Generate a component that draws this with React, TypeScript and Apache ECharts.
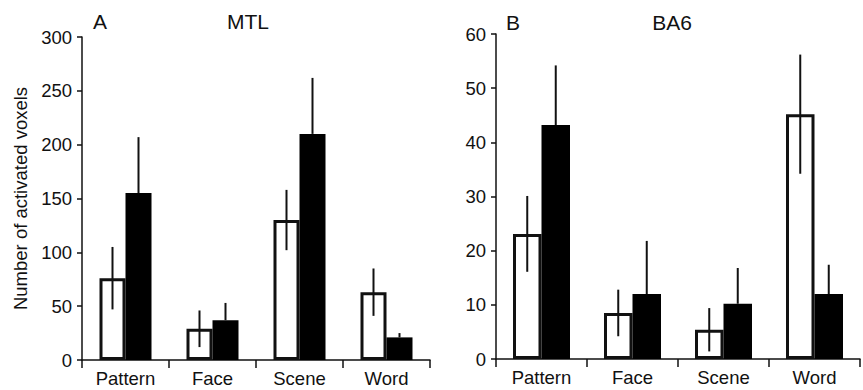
import React, { useEffect, useRef } from "react";
import * as echarts from "echarts";

const categories = ["Pattern", "Face", "Scene", "Word"];

// Panel A: MTL
const mtlWhite = [76, 29, 130, 63];
const mtlWhiteErr = [29, 17, 28, 22];
const mtlBlack = [155, 37, 210, 21];
const mtlBlackErr = [52, 16, 52, 4];
const mtlTicks = [0, 50, 100, 150, 200, 250, 300];

// Panel B: BA6
const ba6White = [23.1, 8.5, 5.4, 45.2];
const ba6WhiteErr = [7, 4.3, 4, 11];
const ba6Black = [43.2, 12, 10.2, 12];
const ba6BlackErr = [11, 9.8, 6.6, 5.4];
const ba6Ticks = [0, 10, 20, 30, 40, 50, 60];

const FONT = "'Liberation Sans', Arial, Helvetica, sans-serif";
const INK = "#111";

function errorSeries(
  values: number[],
  errs: number[],
  both: boolean,
  side: number,
  halfBar: number,
  axisIndex: number
) {
  return {
    type: "custom",
    xAxisIndex: axisIndex,
    yAxisIndex: axisIndex,
    z: 10,
    silent: true,
    data: values.map((v, i) => [i, v, errs[i]]),
    renderItem: (params: any, api: any) => {
      const i = api.value(0);
      const v = api.value(1);
      const e = api.value(2);
      const top = api.coord([i, v + e]);
      const bot = api.coord([i, both ? v - e : v]);
      const x = top[0] + side * halfBar;
      return {
        type: "line",
        shape: { x1: x, y1: top[1], x2: x, y2: bot[1] },
        style: { stroke: INK, lineWidth: 2 },
      };
    },
  };
}

function makeAxes(gridIndex: number, max: number, interval: number) {
  const x = {
    type: "category",
    gridIndex,
    data: categories,
    axisLine: { lineStyle: { color: INK, width: 1.5 } },
    axisTick: { show: true, length: 8, lineStyle: { color: INK, width: 1.5 } },
    axisLabel: { color: INK, fontSize: 18.5, fontFamily: FONT, margin: 9 },
  };
  const y: any = {
    type: "value",
    gridIndex,
    min: 0,
    max,
    interval,
    splitLine: { show: false },
    axisLine: { show: true, lineStyle: { color: INK, width: 1.5 } },
    axisTick: { show: true, length: 5, lineStyle: { color: INK, width: 1.5 } },
    axisLabel: { color: INK, fontSize: 18.5, fontFamily: FONT, margin: 10 },
  };
  return { x, y };
}

export default function App() {
  const ref = useRef<HTMLDivElement>(null);

  useEffect(() => {
    if (!ref.current) return;
    const chart = echarts.init(ref.current, null, { renderer: "svg" });

    const a = makeAxes(0, mtlTicks[mtlTicks.length - 1], mtlTicks[1] - mtlTicks[0]);
    const b = makeAxes(1, ba6Ticks[ba6Ticks.length - 1], ba6Ticks[1] - ba6Ticks[0]);
    a.y.name = "Number of activated voxels";
    a.y.nameLocation = "middle";
    a.y.nameGap = 52;
    a.y.nameTextStyle = { color: INK, fontSize: 18.5, fontFamily: FONT };

    const bwA = 26;
    const bwB = 28.5;

    const titleText = (text: string, x: number, y: number) => ({
      type: "text",
      x,
      y,
      style: {
        text,
        fill: INK,
        font: `21px ${FONT}`,
        textAlign: "center",
        textVerticalAlign: "middle",
      },
    });

    chart.setOption({
      animation: false,
      backgroundColor: "#fff",
      grid: [
        { left: 82, top: 37, width: 348, height: 323 },
        { left: 496, top: 34, width: 364, height: 325 },
      ],
      xAxis: [a.x, b.x],
      yAxis: [a.y, b.y],
      graphic: [
        titleText("A", 100, 21),
        titleText("MTL", 248, 21),
        titleText("B", 513, 22),
        titleText("BA6", 672, 22),
      ],
      series: [
        {
          type: "bar",
          xAxisIndex: 0,
          yAxisIndex: 0,
          data: mtlWhite,
          barWidth: bwA,
          barGap: "0%",
          itemStyle: { color: "#fff", borderColor: INK, borderWidth: 3 },
        },
        {
          type: "bar",
          xAxisIndex: 0,
          yAxisIndex: 0,
          data: mtlBlack,
          barWidth: bwA,
          barGap: "0%",
          itemStyle: { color: "#000" },
        },
        {
          type: "bar",
          xAxisIndex: 1,
          yAxisIndex: 1,
          data: ba6White,
          barWidth: bwB,
          barGap: "0%",
          itemStyle: { color: "#fff", borderColor: INK, borderWidth: 3 },
        },
        {
          type: "bar",
          xAxisIndex: 1,
          yAxisIndex: 1,
          data: ba6Black,
          barWidth: bwB,
          barGap: "0%",
          itemStyle: { color: "#000" },
        },
        errorSeries(mtlWhite, mtlWhiteErr, true, -1, bwA / 2, 0),
        errorSeries(mtlBlack, mtlBlackErr, false, 1, bwA / 2, 0),
        errorSeries(ba6White, ba6WhiteErr, true, -1, bwB / 2, 1),
        errorSeries(ba6Black, ba6BlackErr, false, 1, bwB / 2, 1),
      ],
    });

    return () => chart.dispose();
  }, []);

  return (
    <div
      ref={ref}
      style={{ position: "fixed", left: 0, top: 0, width: 863, height: 390, background: "#fff" }}
    />
  );
}
